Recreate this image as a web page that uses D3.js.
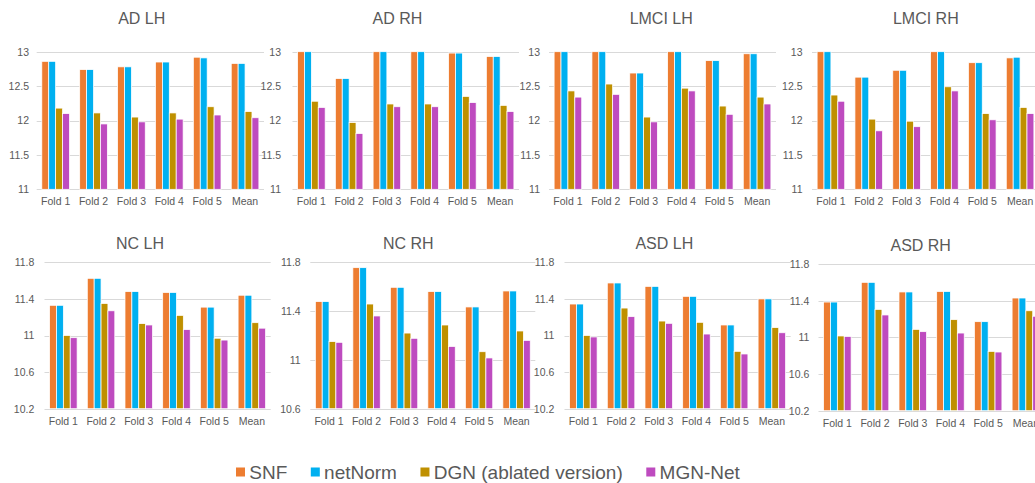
<!DOCTYPE html>
<html><head><meta charset="utf-8">
<script src="https://cdn.jsdelivr.net/npm/d3@7"></script>
<style>
body{margin:0;background:#fff;}
svg{display:block;font-family:"Liberation Sans",Arial,sans-serif;}
</style>
</head><body>
<svg id="c" width="1035" height="483"></svg>
<script>
const categories = ["Fold 1","Fold 2","Fold 3","Fold 4","Fold 5","Mean"];
const seriesNames = ["SNF","netNorm","DGN (ablated version)","MGN-Net"];
const seriesColors = ["#ED7D31","#00B0F0","#BF9000","#BE4BBF"];
const panelTitles = ["AD LH","AD RH","LMCI LH","LMCI RH","NC LH","NC RH","ASD LH","ASD RH"];

const topTicks = [11, 11.5, 12, 12.5, 13];
const bottomTicks = [10.2, 10.6, 11, 11.4, 11.8];
const ncRHTicks = [10.6, 11, 11.4, 11.8];

// values per panel: [SNF, netNorm, DGN, MGN-Net], each across the 6 categories
const adLH = [
  [12.86, 12.74, 12.78, 12.85, 12.92, 12.83],
  [12.86, 12.74, 12.78, 12.85, 12.91, 12.83],
  [12.18, 12.11, 12.05, 12.11, 12.20, 12.13],
  [12.10, 11.95, 11.98, 12.02, 12.08, 12.04]
];
const adRH = [
  [13.00, 12.61, 13.00, 13.00, 12.98, 12.93],
  [13.00, 12.61, 13.00, 13.00, 12.98, 12.93],
  [12.28, 11.97, 12.24, 12.24, 12.35, 12.22],
  [12.19, 11.81, 12.20, 12.20, 12.26, 12.13]
];
const lmciLH = [
  [13.00, 13.00, 12.69, 13.00, 12.87, 12.97],
  [13.00, 13.00, 12.69, 13.00, 12.87, 12.97],
  [12.43, 12.53, 12.05, 12.47, 12.21, 12.34],
  [12.34, 12.38, 11.98, 12.43, 12.09, 12.24]
];
const lmciRH = [
  [13.00, 12.63, 12.73, 13.00, 12.84, 12.91],
  [13.00, 12.63, 12.73, 13.00, 12.84, 12.92],
  [12.37, 12.02, 11.99, 12.49, 12.10, 12.19],
  [12.28, 11.85, 11.91, 12.43, 12.01, 12.10]
];
const ncLH = [
  [11.33, 11.625, 11.48, 11.47, 11.31, 11.44],
  [11.33, 11.625, 11.48, 11.47, 11.31, 11.44],
  [11.00, 11.35, 11.13, 11.22, 10.97, 11.14],
  [10.976, 11.27, 11.115, 11.064, 10.95, 11.08]
];
const ncRH = [
  [11.478, 11.756, 11.595, 11.56, 11.434, 11.565],
  [11.478, 11.756, 11.595, 11.56, 11.434, 11.565],
  [11.15, 11.458, 11.22, 11.286, 11.067, 11.237],
  [11.144, 11.36, 11.177, 11.11, 11.016, 11.16]
];
const asdLH = [
  [11.344, 11.574, 11.537, 11.428, 11.115, 11.40],
  [11.344, 11.574, 11.537, 11.428, 11.115, 11.40],
  [11.00, 11.30, 11.158, 11.144, 10.827, 11.086],
  [10.984, 11.206, 11.133, 11.016, 10.798, 11.03]
];
const asdRH = [
  [11.385, 11.60, 11.495, 11.50, 11.171, 11.429],
  [11.385, 11.60, 11.495, 11.50, 11.171, 11.429],
  [11.015, 11.305, 11.087, 11.193, 10.847, 11.29],
  [11.01, 11.244, 11.062, 11.047, 10.84, 11.23]
];

const panelData = [adLH, adRH, lmciLH, lmciRH, ncLH, ncRH, asdLH, asdRH];
const panelTicks = [topTicks, topTicks, topTicks, topTicks, bottomTicks, ncRHTicks, bottomTicks, bottomTicks];

// layout (positions only)
const layout = [
  {x0:36.7, x1:264,   top:51.7,  bottom:189.3, labelX:29,    titleX:141.7, titleY:24},
  {x0:292.5,x1:519,   top:51.7,  bottom:189.3, labelX:281,   titleX:397.5, titleY:24},
  {x0:549,  x1:776,   top:51.7,  bottom:189.3, labelX:540,   titleX:661.2, titleY:24},
  {x0:812,  x1:1039,  top:51.7,  bottom:189.3, labelX:802.5, titleX:925.8, titleY:24},
  {x0:44.5, x1:270.7, top:262.3, bottom:408.7, labelX:34.3,  titleX:140,   titleY:249},
  {x0:310.3,x1:535.3, top:262.3, bottom:408.7, labelX:300.7, titleX:408.3, titleY:248.5},
  {x0:564.5,x1:790.7, top:262.3, bottom:408.7, labelX:554.3, titleX:664.3, titleY:249},
  {x0:818.5,x1:1044.7,top:264,   bottom:410.7, labelX:809.3, titleX:920.7, titleY:251}
];

const svg = d3.select("#c");
const textColor = "#595959";
const gridColor = "#D9D9D9";

panelData.forEach((data, pi) => {
  const L = layout[pi];
  const ticks = panelTicks[pi];
  const g = svg.append("g");

  const y = d3.scaleLinear()
    .domain([ticks[0], ticks[ticks.length-1]])
    .range([L.bottom, L.top]).clamp(true);
  const x = d3.scaleBand().domain(categories)
    .range([L.x0, L.x1]).paddingInner(0.27).paddingOuter(0.135);
  const xs = d3.scaleBand().domain(d3.range(seriesNames.length))
    .range([0, x.bandwidth()]);

  // gridlines
  g.append("g").selectAll("line").data(ticks).join("line")
    .attr("x1", L.x0).attr("x2", L.x1)
    .attr("y1", d => Math.round(y(d)) + 0.5).attr("y2", d => Math.round(y(d)) + 0.5)
    .attr("stroke", gridColor).attr("stroke-width", 1);

  // bars
  const cells = [];
  data.forEach((vals, si) => vals.forEach((v, ci) => cells.push({si, ci, v})));
  g.append("g").selectAll("rect").data(cells).join("rect")
    .attr("x", d => x(categories[d.ci]) + xs(d.si))
    .attr("width", xs.bandwidth())
    .attr("y", d => y(d.v))
    .attr("height", d => y(ticks[0]) - y(d.v))
    .attr("fill", d => seriesColors[d.si])
    .attr("stroke", "#fff").attr("stroke-width", 0.75);

  // y axis
  const ya = g.append("g").attr("transform", `translate(${L.labelX},0)`)
    .call(d3.axisLeft(y).tickValues(ticks).tickSize(0).tickPadding(0).tickFormat(d3.format("")));
  ya.select(".domain").remove();
  ya.selectAll("text").attr("fill", textColor).style("font-size", "10.5px")
    .style("font-family", '"Liberation Sans",Arial,sans-serif');

  // x axis
  const xa = g.append("g").attr("transform", `translate(0,${L.bottom})`)
    .call(d3.axisBottom(x).tickSize(0).tickPadding(0));
  xa.select(".domain").remove();
  xa.selectAll("text").attr("fill", textColor).attr("y", 16.2).attr("dy", null)
    .style("font-size", "10.5px")
    .style("font-family", '"Liberation Sans",Arial,sans-serif');

  // title
  g.append("text").attr("x", L.titleX).attr("y", L.titleY)
    .attr("text-anchor", "middle").attr("fill", textColor)
    .style("font-size", "16px").text(panelTitles[pi]);
});

// legend
const leg = svg.append("g");
let lx = 236;
seriesNames.forEach((name, i) => {
  leg.append("rect").attr("x", lx).attr("y", 467.5).attr("width", 9).attr("height", 9)
    .attr("fill", seriesColors[i]);
  const t = leg.append("text").attr("x", lx + 13.3).attr("y", 479)
    .attr("fill", textColor).style("font-size", "19px").text(name);
  lx += 13.3 + t.node().getComputedTextLength() + 23.5;
});
</script>
</body></html>
